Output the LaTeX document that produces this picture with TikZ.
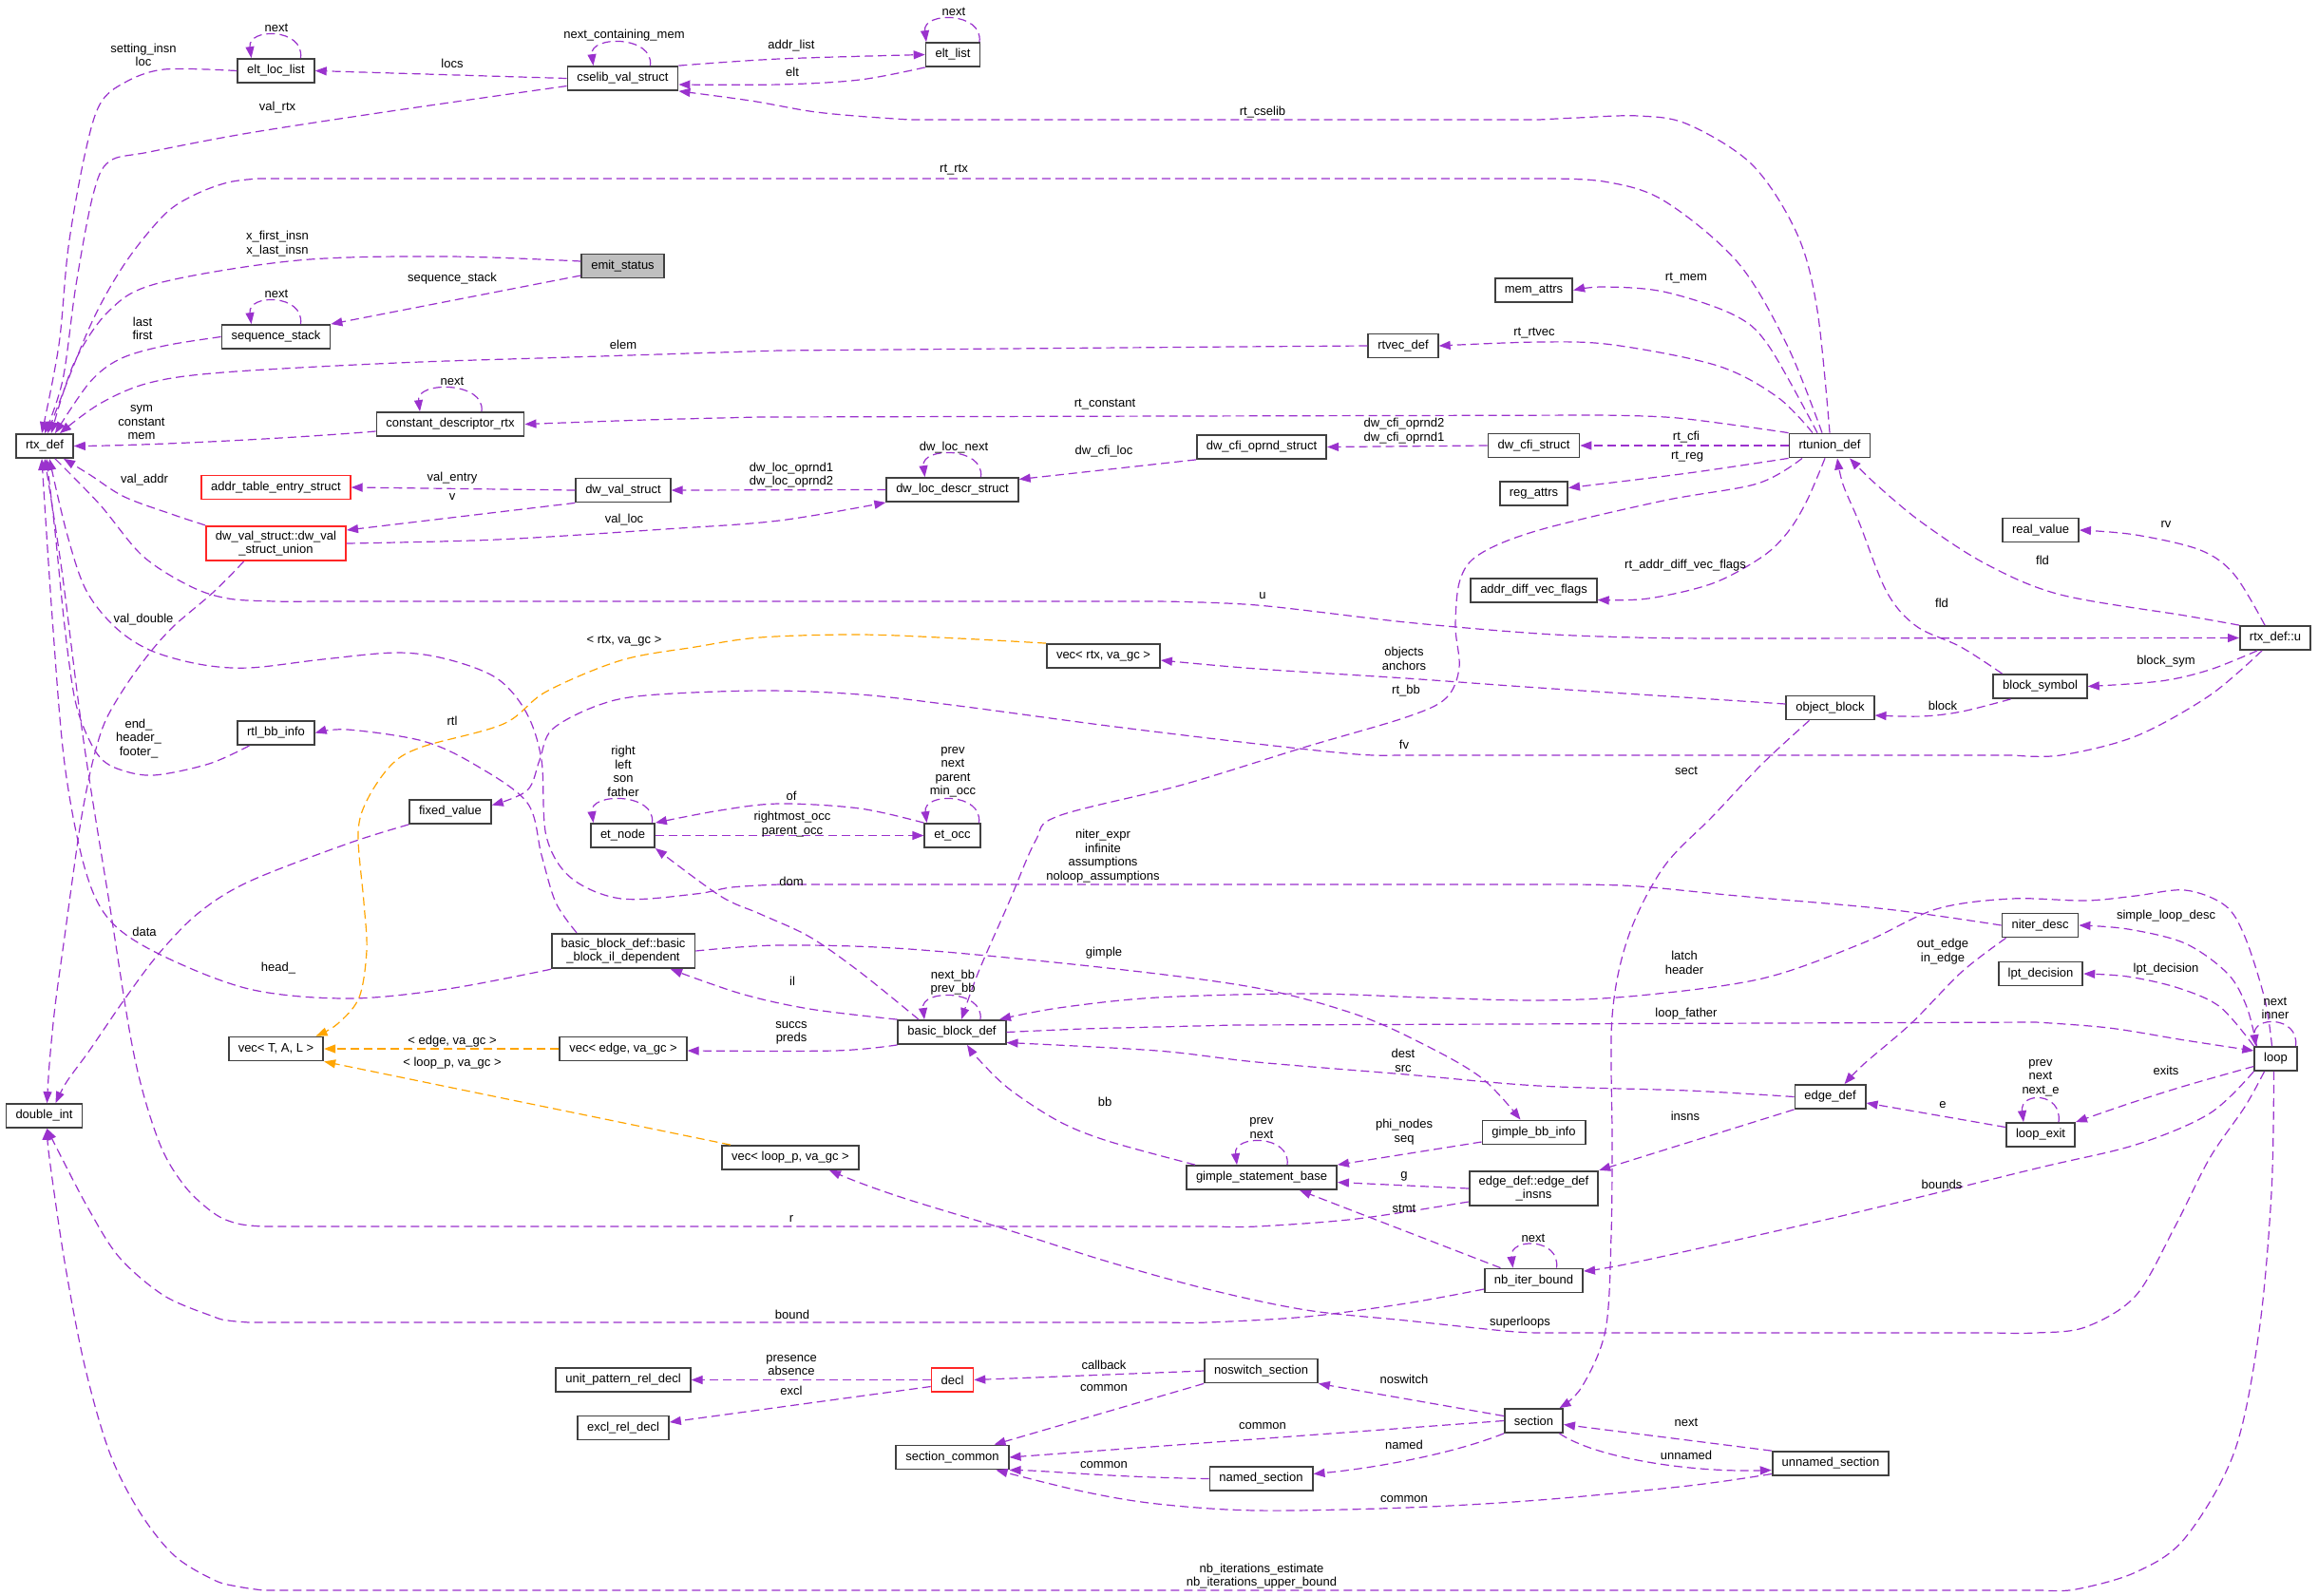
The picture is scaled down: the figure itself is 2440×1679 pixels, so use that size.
\documentclass[tikz,border=0pt]{standalone}
\usepackage{fontspec}
\setmainfont{Liberation Sans}
\usetikzlibrary{arrows.meta}
\definecolor{UsePurple}{HTML}{9A32CD}
\definecolor{TmplOrange}{HTML}{FFA500}
\definecolor{EmitGray}{HTML}{BFBFBF}

\begin{document}
\begin{tikzpicture}[x=1pt,y=-1pt,
    font=\fontsize{13}{14.5}\selectfont,
    cls/.style={draw=black!75,line width=1.8pt,minimum height=25pt,inner xsep=10pt,inner ysep=5pt,align=center},
    undoc/.style={cls,draw=red!85},
    usage/.style={UsePurple,line width=1.2pt,dash pattern=on 9pt off 5pt,-{Triangle[length=12pt,width=9pt]}},
    inst/.style={usage,TmplOrange},
    lab/.style={inner sep=0pt,align=center}]
        \path[use as bounding box,fill=white] (0,0) rectangle (2440,1679);
        % classes
        \node[cls] (rtxdef) at (47,469.5) {rtx\_def};
        \node[cls] (eltloc) at (290.5,74.5) {elt\_loc\_list};
        \node[cls] (cselib) at (655.5,82.5) {cselib\_val\_struct};
        \node[cls] (eltlist) at (1003,57.5) {elt\_list};
        \node[cls,fill=EmitGray] (emit) at (655.5,280) {emit\_status};
        \node[cls] (seqstack) at (290.5,354.5) {sequence\_stack};
        \node[cls] (cdrtx) at (474,446.5) {constant\_descriptor\_rtx};
        \node[undoc] (addrtab) at (290.5,513) {addr\_table\_entry\_struct};
        \node[cls] (dwval) at (656,516) {dw\_val\_struct};
        \node[undoc] (dwunion) at (290.5,572) {dw\_val\_struct::dw\_val\\\_struct\_union};
        \node[cls] (rtlbb) at (290.5,771.5) {rtl\_bb\_info};
        \node[cls] (fixedval) at (474,854.5) {fixed\_value};
        \node[cls] (etnode) at (655.5,879.5) {et\_node};
        \node[cls] (bbil) at (656,1001) {basic\_block\_def::basic\\\_block\_il\_dependent};
        \node[cls] (vecT) at (290.5,1104) {vec< T, A, L >};
        \node[cls] (vecedge) at (656,1104) {vec< edge, va\_gc >};
        \node[cls] (doubleint) at (46.5,1174.5) {double\_int};
        \node[cls] (veclp) at (832,1218.5) {vec< loop\_p, va\_gc >};
        \node[cls] (uprd) at (656,1452.5) {unit\_pattern\_rel\_decl};
        \node[cls] (excl) at (656,1503) {excl\_rel\_decl};
        \node[cls] (gsb) at (1328,1239.5) {gimple\_statement\_base};
        \node[undoc] (decl) at (1002.5,1452.5) {decl};
        \node[cls] (noswitch) at (1327.5,1443) {noswitch\_section};
        \node[cls] (seccommon) at (1002.5,1534) {section\_common};
        \node[cls] (named) at (1327.5,1556.5) {named\_section};
        \node[cls] (gimplebb) at (1614.5,1192) {gimple\_bb\_info};
        \node[cls] (edgeinsns) at (1614.5,1251) {edge\_def::edge\_def\\\_insns};
        \node[cls] (nbiter) at (1614.5,1348) {nb\_iter\_bound};
        \node[cls] (section) at (1614.5,1495.5) {section};
        \node[cls] (edgedef) at (1926.5,1154.5) {edge\_def};
        \node[cls] (loopexit) at (2148,1194.5) {loop\_exit};
        \node[cls] (unnamed) at (1927,1540.5) {unnamed\_section};
        \node[cls] (loop) at (2395.5,1114.5) {loop};
        \node[cls] (realval) at (2148,558) {real\_value};
        \node[cls] (rtxu) at (2395,671.5) {rtx\_def::u};
        \node[cls] (blocksym) at (2147.5,722.5) {block\_symbol};
        \node[cls] (objblock) at (1926.5,745) {object\_block};
        \node[cls] (addrdiff) at (1614.5,621.5) {addr\_diff\_vec\_flags};
        \node[cls] (niter) at (2147.5,974) {niter\_desc};
        \node[cls] (lpt) at (2148,1025) {lpt\_decision};
        \node[cls] (vecrtx) at (1161.5,690.5) {vec< rtx, va\_gc >};
        \node[cls] (etocc) at (1002.5,879.5) {et\_occ};
        \node[cls] (bbd) at (1002,1086.5) {basic\_block\_def};
        \node[cls] (rtunion) at (1926,469) {rtunion\_def};
        \node[cls] (memattrs) at (1614.5,305.5) {mem\_attrs};
        \node[cls] (dwcfi) at (1614.5,469) {dw\_cfi\_struct};
        \node[cls] (regattrs) at (1614.5,519.5) {reg\_attrs};
        \node[cls] (rtvec) at (1477,364) {rtvec\_def};
        \node[cls] (dwcfiop) at (1328,470.5) {dw\_cfi\_oprnd\_struct};
        \node[cls] (dwloc) at (1002.5,515.5) {dw\_loc\_descr\_struct};

        % self references
        \foreach \nd/\lo/\hi in {eltloc/-26/26,cselib/-31/29,eltlist/-28/28,seqstack/-26/26,cdrtx/-32/33,
            dwloc/-29/30,etnode/-31/31,etocc/-27/28,bbd/-29/30,gsb/-26/27,nbiter/-22/24,loopexit/-18/19,loop/-21/21}
          \draw[usage] ([xshift=\hi pt]\nd.north) .. controls +(4,-32) and +(-4,-32) .. ([xshift=\lo pt]\nd.north);

        % into rtx_def from above
        \draw[usage] plot[smooth,tension=.55] coordinates {(eltloc.west) (173,73) (131,87) (105,110) (89,164) (72,260) (62,363) ([xshift=-3pt]rtxdef.north)};
        \draw[usage] plot[smooth,tension=.55] coordinates {([yshift=-8pt]cselib.west) (418,116) (262,140) (157,160) (115,170) (98,205) (80,300) (66,400) (rtxdef.north)};
        \draw[usage] plot[smooth,tension=.55] coordinates {([xshift=-8pt]rtunion.north) (1881,363) (1829,276) (1751,211) (1688,191) (1620,188)}
          -- plot[smooth,tension=.55] coordinates {(272,188) (240,192) (205,205) (173,226) (131,278) (94,345) ([xshift=3pt]rtxdef.north)};
        \draw[usage] plot[smooth,tension=.55] coordinates {([yshift=5pt]emit.west) (471,270) (314,274) (167,298) (115,327) (78,382) ([xshift=7pt]rtxdef.north)};
        \draw[usage] plot[smooth,tension=.55] coordinates {(seqstack.west) (173,364) (126,378) (94,403) ([xshift=11pt]rtxdef.north)};
        \draw[usage] plot[smooth,tension=.55] coordinates {(rtvec.west) (1300,365)} -- plot[smooth,tension=.55] coordinates {(820,369) (600,376) (418,382) (235,392) (157,403) (105,425) ([xshift=16pt]rtxdef.north)};
        \draw[usage] ([yshift=-7.5pt]cdrtx.west) .. controls (300,462) and (150,469) .. (rtxdef.east);

        % cselib corner
        \draw[usage] (cselib.west) -- (eltloc.east);
        \draw[usage] plot[smooth,tension=.55] coordinates {(cselib.north east) (820,62) (eltlist.west)};
        \draw[usage] plot[smooth,tension=.55] coordinates {(eltlist.south west) (905,84) (820,89) ([yshift=-6.5pt]cselib.east)};
        \draw[usage] plot[smooth,tension=.55] coordinates {(rtunion.north) (1913,327) (1892,247) (1845,174) (1777,131) (1725,122) (1660,124) (1620,126)}
          -- plot[smooth,tension=.55] coordinates {(957,126) (900,122) (852,117) (790,106) (cselib.south east)};
        \draw[usage] ([yshift=-10pt]emit.west) -- (seqstack.north east);

        % rtunion_def members
        \draw[usage] plot[smooth,tension=.55] coordinates {(rtunion.north west) (1766,440) (1680,437)}
          -- plot[smooth,tension=.55] coordinates {(800,439) (680,442) (cdrtx.east)};
        \draw[usage] plot[smooth,tension=.55] coordinates {([xshift=-18pt]rtunion.north) (1871,418) (1808,385) (1698,363) (1620,360) (rtvec.east)};
        \draw[usage] plot[smooth,tension=.55] coordinates {([xshift=-13pt]rtunion.north) (1861,363) (1824,331) (1751,307) (1688,302) (memattrs.east)};
        \draw[usage] (rtunion.west) -- (dwcfi.east);
        \draw[usage] plot[smooth,tension=.55] coordinates {(rtunion.south west) (1777,498) ([yshift=6pt]regattrs.east)};
        \draw[usage] plot[smooth,tension=.55] coordinates {([xshift=-5pt]rtunion.south) (1902,527) (1882,560) (1855,586) (1803,614) (1735,630) ([yshift=-10pt]addrdiff.east)};
        \draw[usage] plot[smooth,tension=.55] coordinates {([xshift=-29pt]rtunion.south) (1850,509) (1751,527) (1620,558) (1558,583) (1537,610) (1532,659) (1536,703) (1522,735) (1480,755) (1375,786) (1245,826) (1114,859) (1090,885) (1062,950) (1030,1023) ([xshift=10pt]bbd.north)};

        % rtx_def::u and friends
        \draw[usage] plot[smooth,tension=.55] coordinates {([xshift=-40pt]blocksym.north) (2064,681) (2017,659) (1986,623) (1957,550) (1940,510) ([xshift=8pt]rtunion.south)};
        \draw[usage] plot[smooth,tension=.55] coordinates {(rtxu.north west) (2300,648) (2169,626) (2091,594) (2023,550) (1975,510) ([xshift=21pt]rtunion.south)};
        \draw[usage] plot[smooth,tension=.55] coordinates {([xshift=-11pt]rtxu.north) (2352,605) (2316,579) (2248,563) (realval.east)};
        \draw[usage] plot[smooth,tension=.55] coordinates {([xshift=-19pt]rtxu.south) (2326,705) (2274,717) (blocksym.east)};
        \draw[usage] plot[smooth,tension=.55] coordinates {([xshift=-31pt]blocksym.south) (2065,749) (2023,754) ([yshift=-8pt]objblock.east)};
        \draw[usage] plot[smooth,tension=.55] coordinates {([xshift=-14pt]rtxu.south) (2326,732) (2248,775) (2169,795) (2120,795)}
          -- plot[smooth,tension=.55] coordinates {(1470,795) (1428,794) (1323,783) (1166,764) (1009,743) (905,731) (800,727) (680,732) (628,743) (581,768) (568,800) (555,832) ([yshift=7pt]fixedval.east)};
        \draw[usage] plot[smooth,tension=.55] coordinates {([yshift=4pt]objblock.west) (1620,724) (1480,714) (1323,704) ([yshift=-4.5pt]vecrtx.east)};
        \draw[usage] plot[smooth,tension=.55] coordinates {([xshift=-22pt]objblock.south) (1855,804) (1803,859) (1751,913) (1714,986) (1697,1070) (1697,1200) (1696,1300) (1690,1400) (1665,1460) ([xshift=27pt]section.north)};
        \draw[usage] plot[smooth,tension=.55] coordinates {([xshift=11pt]rtxdef.south) (105,531) (150,585) (200,617) (240,630) (290,633) (330,633)}
          -- plot[smooth,tension=.55] coordinates {(1218,633) (1323,637) (1480,655) (1620,667) (1720,671) (1800,672)} -- (rtxu.west);

        % into rtx_def from below
        \draw[usage] plot[smooth,tension=.55] coordinates {(niter.west) (1986,957) (1829,943) (1725,933) (1660,931) (1620,931)}
          -- plot[smooth,tension=.55] coordinates {(820,931) (770,934) (732,941) (654,946) (601,924) (575,880) (570,800) (554,750) (523,714) (471,694) (418,687) (340,694) (262,703) (209,699) (157,684) (120,659) (90,620) (70,560) ([xshift=5pt]rtxdef.south)};
        \draw[usage] plot[smooth,tension=.55] coordinates {(dwunion.north west) (183,542) (131,523) (95,500) ([xshift=20pt]rtxdef.south)};
        \draw[usage] plot[smooth,tension=.55] coordinates {([xshift=-28pt]rtlbb.south) (220,804) (162,816) (126,810) (105,797) (89,768) (78,732) (68,659) (58,560) ([xshift=2pt]rtxdef.south)};
        \draw[usage] plot[smooth,tension=.55] coordinates {([xshift=-76pt]bbil.south) (471,1041) (366,1051) (262,1041) (167,1004) (115,968) (89,913) (68,804) (55,650) ([xshift=-3pt]rtxdef.south)};
        \draw[usage] plot[smooth,tension=.55] coordinates {([yshift=-14pt]edgeinsns.west) (1428,1283) (1323,1291) (1280,1291)}
          -- plot[smooth,tension=.55] coordinates {(277,1291) (250,1288) (225,1277) (194,1248) (167,1201) (141,1110) (115,950) (88,780) (65,600) (rtxdef.south)};

        % into double_int
        \draw[usage] plot[smooth,tension=.55] coordinates {([xshift=-34pt]dwunion.south) (225,623) (183,659) (157,688) (131,724) (110,761) (97,804) (86,859) (78,913) (68,986) (58,1059) (52,1120) ([xshift=3pt]doubleint.north)};
        \draw[usage] plot[smooth,tension=.55] coordinates {(fixedval.south west) (366,888) (262,928) (209,961) (167,1004) (131,1052) (94,1106) (70,1139) ([xshift=12pt]doubleint.north)};
        \draw[usage] plot[smooth,tension=.55] coordinates {([yshift=-9pt]nbiter.west) (1480,1372) (1375,1386) (1271,1392) (1230,1392)}
          -- plot[smooth,tension=.55] coordinates {(262,1392) (240,1390) (225,1386) (173,1364) (126,1324) (94,1274) (63,1215) ([xshift=3pt]doubleint.south)};
        \draw[usage] plot[smooth,tension=.55] coordinates {([xshift=-2pt]loop.south) (2391,1255) (2378,1401) (2352,1528) (2300,1619) (2248,1655) (2185,1673) (2150,1674)}
          -- plot[smooth,tension=.55] coordinates {(277,1674) (250,1670) (225,1663) (183,1637) (146,1590) (115,1528) (89,1437) (68,1328) (52,1219) ([xshift=3pt]doubleint.south)};

        % loop
        \draw[usage] plot[smooth,tension=.55] coordinates {([xshift=-12pt]loop.south) (2363,1165) (2326,1219) (2289,1292) (2248,1364) (2195,1397) (2143,1403) (2100,1403)}
          -- plot[smooth,tension=.55] coordinates {(1620,1403) (1584,1401) (1480,1390) (1375,1379) (1271,1357) (1166,1328) (1062,1295) (957,1263) (905,1245) ([xshift=41pt]veclp.south)};
        \draw[usage] plot[smooth,tension=.55] coordinates {(loop.south west) (2326,1172) (2248,1205) (2143,1230) (1934,1281) (1725,1328) ([yshift=10pt]nbiter.east)};
        \draw[usage] plot[smooth,tension=.55] coordinates {([yshift=-8pt]loop.west) (2300,1143) (2240,1162) (loopexit.north east)};
        \draw[usage] ([yshift=8pt]loopexit.west) -- ([yshift=-6.5pt]edgedef.east);
        \draw[usage] plot[smooth,tension=.55] coordinates {([xshift=-36pt]niter.south) (2065,1023) (2012,1077) (1962,1120) ([xshift=15pt]edgedef.north)};
        \draw[usage] plot[smooth,tension=.55] coordinates {([xshift=-20pt]loop.north) (2365,1060) (2345,1025) (2300,993) (2240,978) (niter.east)};
        \draw[usage] plot[smooth,tension=.55] coordinates {([xshift=-4pt]loop.north) (2384,1052) (2363,986) (2342,953) (2300,937) (2248,943) (2195,948) (2117,946) (2038,957) (1960,993) (1855,1030) (1725,1048) (1620,1053) (1500,1050) (1375,1046) (1218,1050) (1114,1061) ([xshift=50pt]bbd.north)};
        \draw[usage] plot[smooth,tension=.55] coordinates {(loop.north west) (2337,1060) (2293,1040) (2240,1028) (lpt.east)};
        \draw[usage] plot[smooth,tension=.55] coordinates {(bbd.east) (1140,1083) (1218,1081) (1300,1079)}
          -- plot[smooth,tension=.55] coordinates {(2143,1076) (2220,1082) (2300,1095) ([yshift=8.5pt]loop.west)};

        % basic_block_def
        \draw[usage] plot[smooth,tension=.55] coordinates {(edgedef.west) (1777,1148) (1620,1143) (1480,1131) (1323,1118) (1218,1106) ([yshift=-11pt]bbd.east)};
        \draw[usage] plot[smooth,tension=.55] coordinates {([xshift=-70pt]gsb.north) (1166,1201) (1114,1180) (1062,1146) (1030,1115) ([xshift=16pt]bbd.south)};
        \draw[usage] plot[smooth,tension=.55] coordinates {(bbd.north west) (852,1062) (780,1046) ([xshift=50pt]bbil.south)};
        \draw[usage] plot[smooth,tension=.55] coordinates {(bbd.south west) (878,1106) ([yshift=-2pt]vecedge.east)};
        \draw[usage] plot[smooth,tension=.55] coordinates {([xshift=-35pt]bbd.north) (905,1023) (852,986) (800,962) (758,943) (etnode.south east)};
        \draw[usage] (etnode.east) -- (etocc.west);
        \draw[usage] plot[smooth,tension=.55] coordinates {(etocc.north west) (905,851) (820,846) (758,853) (etnode.north east)};
        \draw[usage] plot[smooth,tension=.55] coordinates {(bbil.east) (820,995) (957,999) (1166,1019) (1323,1040) (1428,1068) (1500,1100) (1560,1135) ([xshift=-14pt]gimplebb.north)};
        \draw[usage] plot[smooth,tension=.55] coordinates {([xshift=-49pt]bbil.north) (585,950) (570,900) (555,845) (500,805) (445,780) (366,768) (rtlbb.east)};

        % gimple and edges
        \draw[usage] ([yshift=-10pt]gimplebb.west) -- (gsb.north east);
        \draw[usage] (edgeinsns.west) -- ([yshift=-5pt]gsb.east);
        \draw[usage] ([xshift=-35pt]nbiter.north) -- ([xshift=40pt]gsb.south);
        \draw[usage] (edgedef.south west) -- (edgeinsns.north east);

        % sections
        \draw[usage] (noswitch.west) -- (decl.east);
        \draw[usage] (noswitch.south west) -- ([xshift=44pt]seccommon.north);
        \draw[usage] (section.west) -- (seccommon.east);
        \draw[usage] ([yshift=5pt]section.west) -- (noswitch.south east);
        \draw[usage] (section.south west) .. controls (1530,1530) and (1450,1545) .. ([yshift=5pt]named.east);
        \draw[usage] (named.west) .. controls (1170,1555) and (1100,1548) .. (seccommon.south east);
        \draw[usage] plot[smooth,tension=.55] coordinates {([yshift=-11pt]unnamed.west) (1777,1564) (1620,1579) (1480,1587) (1323,1590) (1218,1583) (1140,1570) ([xshift=46pt]seccommon.south)};
        \draw[usage] (unnamed.north west) -- ([yshift=-4pt]section.east);
        \draw[usage] ([xshift=27pt]section.south) .. controls (1680,1535) and (1780,1550) .. ([yshift=-7pt]unnamed.west);
        \draw[usage] (decl.west) -- (uprd.east);
        \draw[usage] ([yshift=-7pt]decl.west) -- ([yshift=6pt]excl.east);

        % templates
        \draw[inst] (vecedge.west) -- (vecT.east);
        \draw[inst] ([xshift=-63pt]veclp.north) -- (vecT.south east);
        \draw[inst] plot[smooth,tension=.55] coordinates {(vecrtx.north west) (1009,672) (905,668) (800,671) (732,681) (654,695) (575,728) (530,762) (445,786) (413,804) (387,841) (377,877) (383,950) (386,1000) (378,1050) (355,1078) ([xshift=42pt]vecT.north)};

        % dwarf
        \draw[usage] (dwcfi.west) -- (dwcfiop.east);
        \draw[usage] (dwcfiop.south west) -- ([yshift=11pt]dwloc.east);
        \draw[usage] (dwloc.west) -- (dwval.east);
        \draw[usage] (dwval.west) -- (addrtab.east);
        \draw[usage] (dwval.south west) -- ([yshift=14pt]dwunion.east);
        \draw[usage] plot[smooth,tension=.55] coordinates {(dwunion.east) (523,568) (700,557) (820,548) (dwloc.south west)};

        % member names
        \foreach \lx/\ly/\lt [count=\i] in {291/29/next,476/67/locs,657/37/next\_containing\_mem,833/48/addr\_list,
            834/76/elt,1004/12/next,292/113/val\_rtx,1329/118/rt\_cselib,1004/179/rt\_rtx,476/293/sequence\_stack,
            291/309/next,656/363/elem,1615/351/rt\_rtvec,1775/293/rt\_mem,476/401/next,1163/426/rt\_constant,
            1775/460/rt\_cfi,1776/481/rt\_reg,1004/471/dw\_loc\_next,1162/475/dw\_cfi\_loc,152/505/val\_addr,
            476/503/val\_entry,476/523/v,657/547/val\_loc,2280/552/rv,2150/590/fld,1774/595/rt\_addr\_diff\_vec\_flags,
            1329/627/u,2044/635/fld,151/652/val\_double,657/675/{< rtx, va\_gc >},2280/696/block\_sym,1480/727/rt\_bb,
            2045/743/block,476/759/rtl,1478/784/fv,1775/811/sect,833/838/of,833/928/dom,2280/964/simple\_loop\_desc,
            152/981/data,1162/1003/gimple,293/1019/head\_,2280/1020/lpt\_decision,834/1033/il,1775/1067/loop\_father,
            476/1096/{< edge, va\_gc >},476/1119/{< loop\_p, va\_gc >},2280/1127/exits,1163/1160/bb,2045/1163/e,
            1774/1175/insns,1478/1238/g,2044/1247/bounds,1478/1272/stmt,833/1283/r,1614/1303/next,834/1384/bound,
            1600/1392/superloops,1162/1437/callback,1478/1452/noswitch,1162/1461/common,833/1464/excl,1775/1497/next,
            1329/1501/common,1478/1521/named,1775/1532/unnamed,1162/1542/common,1478/1578/common}
          \node[lab] (lab\i) at (\lx,\ly) {\lt};
        \node[lab] (lsetting) at (151,58) {setting\_insn\\loc};
        \node[lab] (lxfirst) at (292,256.5) {x\_first\_insn\\x\_last\_insn};
        \node[lab] (llast) at (150,346) {last\\first};
        \node[lab] (lsym) at (149,445) {sym\\constant\\mem};
        \node[lab] (lcfiop) at (1478,453.5) {dw\_cfi\_oprnd2\\dw\_cfi\_oprnd1};
        \node[lab] (lloc) at (833,500) {dw\_loc\_oprnd1\\dw\_loc\_oprnd2};
        \node[lab] (lobj) at (1478,693.5) {objects\\anchors};
        \node[lab] (lend) at (146,777.5) {end\_\\header\_\\footer\_};
        \node[lab] (lright) at (656,812) {right\\left\\son\\father};
        \node[lab] (lprevocc) at (1003,813) {prev\\next\\parent\\min\_occ};
        \node[lab] (lrocc) at (834,867.5) {rightmost\_occ\\parent\_occ};
        \node[lab] (lniter) at (1161,901) {niter\_expr\\infinite\\assumptions\\noloop\_assumptions};
        \node[lab] (lout) at (2045,1001.5) {out\_edge\\in\_edge};
        \node[lab] (llatch) at (1773,1013.5) {latch\\header};
        \node[lab] (lnextbb) at (1003,1034) {next\_bb\\prev\_bb};
        \node[lab] (linner) at (2395,1061.5) {next\\inner};
        \node[lab] (lsuccs) at (833,1087.5) {succs\\preds};
        \node[lab] (ldest) at (1477,1116.5) {dest\\src};
        \node[lab] (lnexte) at (2148,1134.5) {prev\\next\\next\_e};
        \node[lab] (lgprev) at (1328,1187.5) {prev\\next};
        \node[lab] (lphi) at (1478,1191.5) {phi\_nodes\\seq};
        \node[lab] (lpres) at (833,1437) {presence\\absence};
        \node[lab] (lnbit) at (1328,1659) {nb\_iterations\_estimate\\nb\_iterations\_upper\_bound};
      \end{tikzpicture}
\end{document}
